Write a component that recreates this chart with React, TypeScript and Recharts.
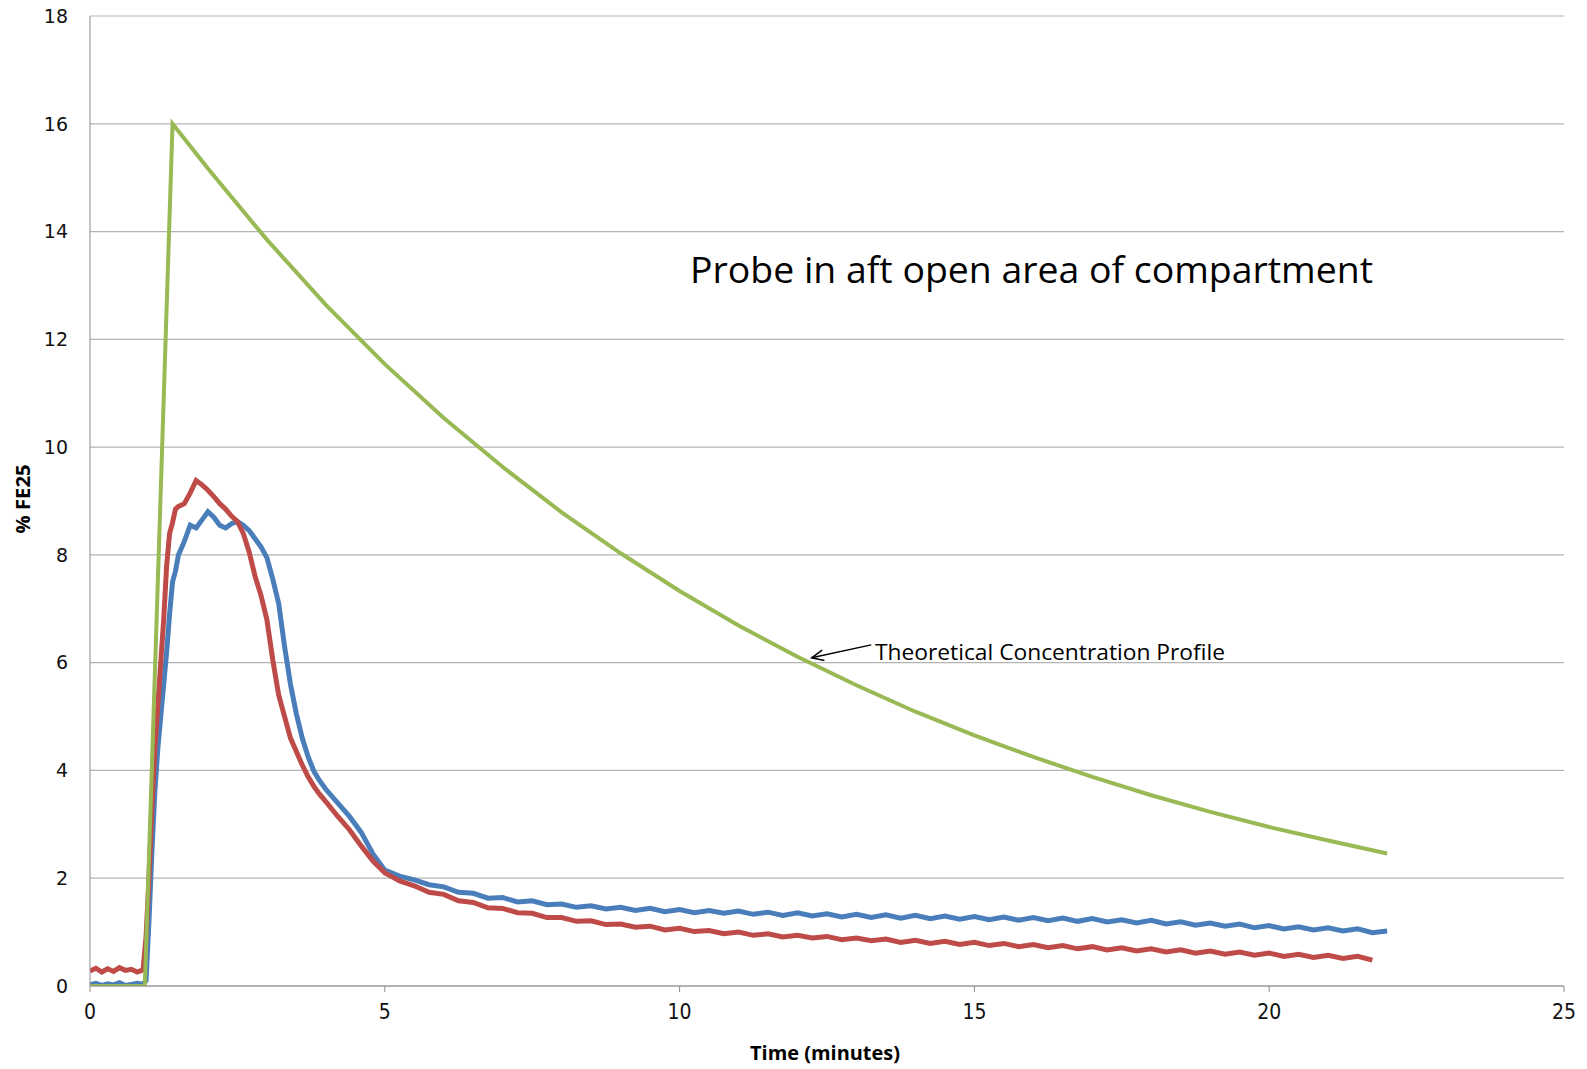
import { LineChart, Line, XAxis, YAxis, CartesianGrid, ReferenceLine } from 'recharts';

// time in minutes, shared by the two measured probe traces
const TIME_MIN = [
  0, 0.1, 0.2, 0.3, 0.4, 0.5, 0.6, 0.7, 0.8, 0.9,
  0.95, 1.0, 1.05, 1.1, 1.15, 1.2, 1.25, 1.3, 1.35, 1.4, 1.45, 1.5,
  1.6, 1.7, 1.8, 1.9, 2.0, 2.1, 2.2, 2.3, 2.4, 2.5, 2.6, 2.7, 2.8, 2.9,
  3.0, 3.1, 3.2, 3.3, 3.4, 3.5, 3.6, 3.7, 3.8, 3.9, 4.0, 4.2, 4.4, 4.6, 4.8, 5.0,
  5.25, 5.5, 5.75, 6.0, 6.25, 6.5, 6.75, 7.0, 7.25, 7.5, 7.75, 8.0,
  8.25, 8.5, 8.75, 9.0, 9.25, 9.5, 9.75, 10.0, 10.25, 10.5, 10.75, 11.0,
  11.25, 11.5, 11.75, 12.0, 12.25, 12.5, 12.75, 13.0, 13.25, 13.5, 13.75, 14.0,
  14.25, 14.5, 14.75, 15.0, 15.25, 15.5, 15.75, 16.0, 16.25, 16.5, 16.75, 17.0,
  17.25, 17.5, 17.75, 18.0, 18.25, 18.5, 18.75, 19.0, 19.25, 19.5, 19.75, 20.0,
  20.25, 20.5, 20.75, 21.0, 21.25, 21.5, 21.75, 22.0,
];

const BLUE_PCT = [
  0.02, 0.05, 0.01, 0.04, 0.02, 0.06, 0.01, 0.03, 0.05, 0.03,
  0.1, 1.2, 2.5, 3.6, 4.4, 5.0, 5.6, 6.2, 6.9, 7.5, 7.7, 8.0,
  8.25, 8.55, 8.5, 8.65, 8.8, 8.7, 8.55, 8.5, 8.58, 8.62, 8.55, 8.45, 8.3, 8.15,
  7.95, 7.55, 7.1, 6.3, 5.6, 5.05, 4.6, 4.25, 3.98, 3.8, 3.65, 3.4, 3.15, 2.85, 2.45, 2.15,
  2.04, 1.97, 1.88, 1.84, 1.74, 1.72, 1.63, 1.64, 1.56, 1.58, 1.51, 1.52,
  1.46, 1.49, 1.43, 1.46, 1.4, 1.44, 1.38, 1.42, 1.36, 1.4, 1.35, 1.39,
  1.33, 1.37, 1.31, 1.36, 1.3, 1.34, 1.28, 1.33, 1.27, 1.32, 1.26, 1.31,
  1.25, 1.3, 1.24, 1.29, 1.23, 1.28, 1.22, 1.27, 1.21, 1.26, 1.2, 1.25,
  1.19, 1.23, 1.17, 1.22, 1.15, 1.19, 1.13, 1.17, 1.11, 1.15, 1.08, 1.12,
  1.06, 1.1, 1.04, 1.08, 1.02, 1.06, 0.99, 1.02,
];

const RED_PCT = [
  0.28, 0.33, 0.26, 0.32, 0.27, 0.34, 0.29, 0.31, 0.26, 0.3,
  0.9, 2.0, 3.3, 4.4, 5.2, 6.0, 6.8, 7.8, 8.4, 8.6, 8.85, 8.9,
  8.95, 9.15, 9.38, 9.3, 9.2, 9.08, 8.95, 8.85, 8.72, 8.62, 8.4, 8.05, 7.6, 7.25,
  6.8, 6.05, 5.4, 5.0, 4.6, 4.35, 4.1, 3.88, 3.7, 3.55, 3.42, 3.15, 2.9, 2.6, 2.32, 2.1,
  1.95, 1.86, 1.74, 1.7, 1.58, 1.55, 1.45, 1.44, 1.36, 1.35, 1.27, 1.27,
  1.2, 1.21, 1.14, 1.15, 1.09, 1.11, 1.04, 1.07, 1.01, 1.03, 0.97, 1.0,
  0.94, 0.97, 0.91, 0.94, 0.89, 0.92, 0.86, 0.89, 0.84, 0.87, 0.81, 0.85,
  0.79, 0.83, 0.77, 0.81, 0.75, 0.79, 0.73, 0.77, 0.71, 0.75, 0.69, 0.73,
  0.67, 0.71, 0.65, 0.69, 0.63, 0.67, 0.61, 0.65, 0.59, 0.63, 0.57, 0.61,
  0.55, 0.59, 0.53, 0.57, 0.51, 0.55, 0.48, null,
];

// theoretical concentration profile
const GREEN_TIME = [0, 0.93, 1.4, 2, 3, 4, 5, 6, 7, 8, 9, 10, 11, 12, 13, 14, 15, 16, 17, 18, 19, 20, 21, 22];
const GREEN_PCT = [0, 0, 16, 15.17, 13.85, 12.64, 11.54, 10.54, 9.63, 8.79, 8.03, 7.33, 6.69, 6.11, 5.58, 5.09, 4.65, 4.25, 3.88, 3.54, 3.23, 2.95, 2.7, 2.46];

const X_TICKS = [0, 5, 10, 15, 20, 25];
const Y_TICKS = [0, 2, 4, 6, 8, 10, 12, 14, 16, 18];

const TITLE = 'Probe in aft open area of compartment';
const NOTE = 'Theoretical Concentration Profile';
const NOTE_TIP = { x: 12.24, y: 6.09 };
const NOTE_TAIL = { x: 13.25, y: 6.33 };

const rows = TIME_MIN.map((t, i) => ({ t, blue: BLUE_PCT[i], red: RED_PCT[i] }));
const greenRows = GREEN_TIME.map((t, i) => ({ t, green: GREEN_PCT[i] }));

const sans = "'Open Sans', 'Noto Sans', sans-serif";

function Arrow(props: any) {
  const { x1, y1, x2, y2 } = props;
  const ang = Math.atan2(y2 - y1, x2 - x1);
  const len = 13;
  const spread = 0.42;
  const ax = x1 + len * Math.cos(ang - spread);
  const ay = y1 + len * Math.sin(ang - spread);
  const bx = x1 + len * Math.cos(ang + spread);
  const by = y1 + len * Math.sin(ang + spread);
  return (
    <g>
      <line x1={x1} y1={y1} x2={x2} y2={y2} stroke="#000" strokeWidth={1.5} />
      <path d={`M${ax},${ay} L${x1},${y1} L${bx},${by}`} fill="none" stroke="#000" strokeWidth={1.5} />
    </g>
  );
}

export default function App() {
  return (
    <div style={{ position: 'absolute', left: 0, top: 0, width: 1587, height: 1069, background: '#fff' }}>
      <LineChart width={1587} height={1069} data={rows} margin={{ top: 16, right: 23, bottom: 23, left: 20 }}>
        <CartesianGrid horizontal vertical={false} stroke="#b4b4b4" strokeWidth={1.2} />
        <XAxis
          type="number"
          dataKey="t"
          domain={[0, 25]}
          ticks={X_TICKS}
          allowDataOverflow
          height={60}
          tickSize={6}
          tickMargin={12}
          stroke="#8c8c8c"
          tick={{ fill: '#111', fontSize: 21, fontFamily: "'Liberation Sans Narrow', 'DejaVu Sans Condensed', Roboto, sans-serif" }}
        />
        <YAxis
          type="number"
          domain={[0, 18]}
          ticks={Y_TICKS}
          allowDataOverflow
          width={70}
          tickLine={false}
          tickSize={0}
          tickMargin={22}
          stroke="#8c8c8c"
          tick={{ fill: '#111', fontSize: 19, fontFamily: "'DejaVu Sans', Verdana, sans-serif" }}
        />
        <Line type="linear" dataKey="blue" stroke="#4a7ebb" strokeWidth={5} dot={false} isAnimationActive={false} />
        <Line type="linear" dataKey="red" stroke="#be4b48" strokeWidth={5} dot={false} isAnimationActive={false} />
        <Line type="linear" data={greenRows} dataKey="green" stroke="#98b954" strokeWidth={4} dot={false} isAnimationActive={false} />
        <ReferenceLine segment={[NOTE_TIP, NOTE_TAIL]} shape={Arrow} />
      </LineChart>
      <svg width={1587} height={1069} style={{ position: 'absolute', left: 0, top: 0, pointerEvents: 'none' }}>
        <text x={690} y={269} dominantBaseline="central" fontSize={36} fontFamily={sans} fill="#000" textLength={683} lengthAdjust="spacingAndGlyphs">
          {TITLE}
        </text>
        <text x={875} y={651} dominantBaseline="central" fontSize={22} fontFamily={sans} fill="#000" textLength={350} lengthAdjust="spacingAndGlyphs">
          {NOTE}
        </text>
        <text x={825} y={1052} textAnchor="middle" dominantBaseline="central" fontSize={20} fontWeight="bold" fontFamily={sans} fill="#000" textLength={150} lengthAdjust="spacingAndGlyphs">
          Time (minutes)
        </text>
        <text x={22} y={499} transform="rotate(-90 22 499)" textAnchor="middle" dominantBaseline="central" fontSize={20} fontWeight="bold" fontFamily={sans} fill="#000" textLength={69} lengthAdjust="spacingAndGlyphs">
          % FE25
        </text>
      </svg>
    </div>
  );
}
